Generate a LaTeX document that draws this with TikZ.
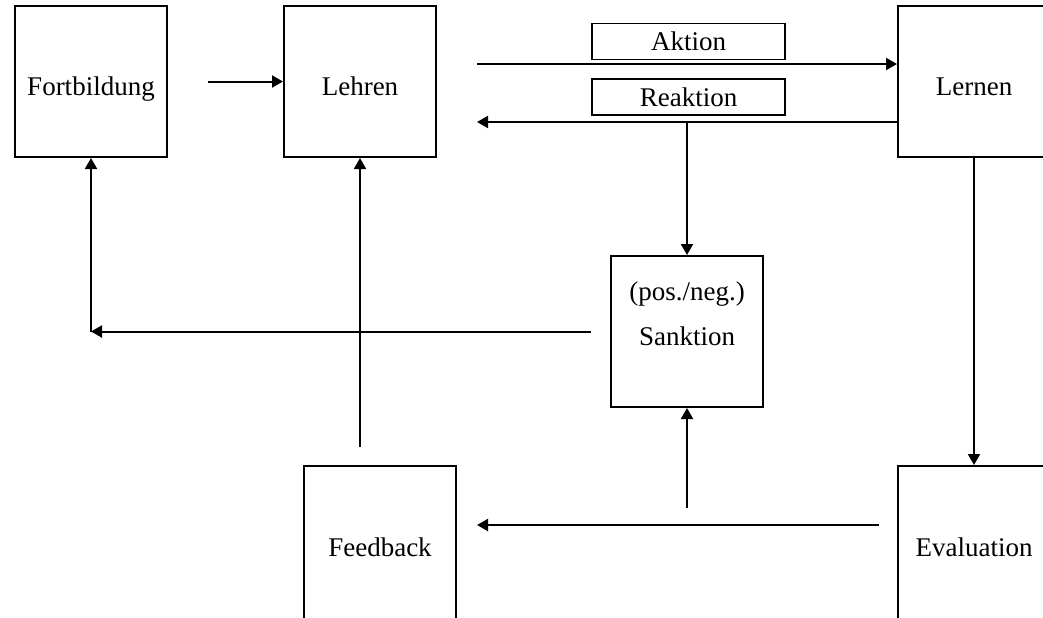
\documentclass[tikz,border=0pt]{standalone}
\usepackage{fontspec}
\setmainfont{Liberation Serif}
\usetikzlibrary{arrows.meta}

\begin{document}
\begin{tikzpicture}[x=0.5pt, y=-0.5pt, line width=1pt,
  kasten/.style={draw, minimum width=76pt, minimum height=75.5pt, inner sep=0pt, align=center,
    text height=16.5pt, text depth=3pt, font=\fontsize{13.5}{21}\selectfont},
  schild/.style={draw, line width=0.6pt, minimum width=96.5pt, minimum height=18pt, inner sep=0pt, font=\fontsize{13.5}{16}\selectfont},
  pfeil/.style={-{Triangle[length=5.5pt,width=6pt]}}]
  \useasboundingbox (0,0) rectangle (1043,617);
  \clip (0,0) rectangle (1043,617);
  % die Kaesten
  \node[kasten] (fort) at (91,81.5) {Fortbildung};
  \node[kasten] (lehr) at (360,81.5) {Lehren};
  \node[kasten] (lern) at (974,81.5) {Lernen};
  \node[kasten, text height=31.9pt, text depth=18.4pt] (sank) at (687,331.5) {(pos./neg.)\\[1.5pt]Sanktion};
  \node[kasten, minimum height=77pt] (feed) at (380,543) {Feedback};
  \node[kasten, minimum height=77pt] (eval) at (974,543) {Evaluation};
  \node[schild] (akt) at (688.5,41.5) {Aktion};
  \node[schild] (reak) at (688.5,97) {Reaktion};
  % oben
  \draw[pfeil, shorten <=20pt] (fort.east) -- (lehr.west);
  \coordinate (ak) at ([yshift=8.75pt]lehr.east);
  \coordinate (rk) at ([yshift=-20.25pt]lern.west);
  \draw[pfeil, shorten <=20pt] (ak) -- (lern.west |- ak);
  \draw[pfeil, shorten >=20pt] (rk) -- (lehr.east |- rk);
  \draw[pfeil] (sank.north |- rk) -- (sank.north);
  % links
  \draw[pfeil, shorten <=9.5pt] (sank.west) -- (fort.south |- sank.west);
  \draw[pfeil] (fort.south |- sank.west) -- (fort.south);
  \draw[pfeil, shorten <=9pt] (lehr.south |- feed.north) -- (lehr.south);
  % rechts und unten
  \draw[pfeil] (lern.south) -- (eval.north);
  \draw[pfeil, shorten <=9pt, shorten >=10pt] ([yshift=9pt]eval.west) -- ([yshift=9pt]feed.east);
  \draw[pfeil] ([yshift=-50pt]sank.south) -- (sank.south);
\end{tikzpicture}
\end{document}
